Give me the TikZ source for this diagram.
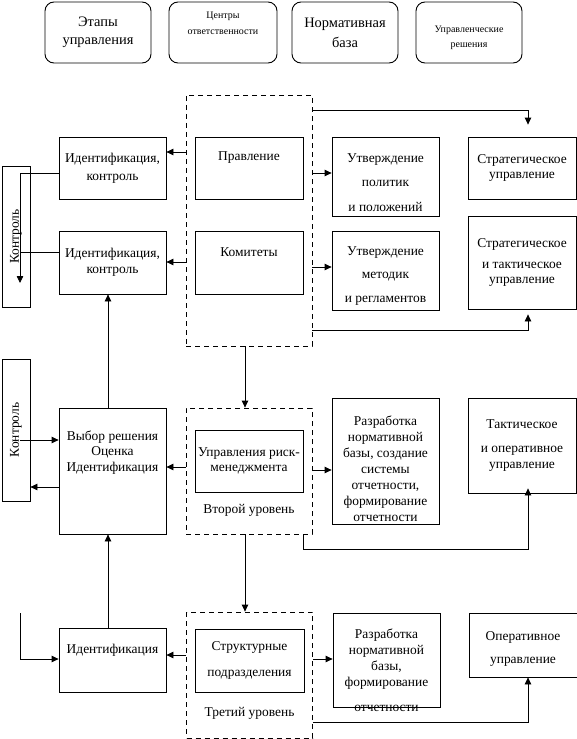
\documentclass[tikz,border=0pt]{standalone}
\usepackage{fontspec}
\setmainfont{Liberation Serif}
\usetikzlibrary{arrows.meta, positioning, calc}
\tikzset{
  hbox/.style={draw, line width=0.9bp, rounded corners=9bp, minimum width=106bp, minimum height=61bp, align=center, inner sep=0pt, font=\fontsize{14.5}{18}\selectfont},
  tbox/.style={draw, line width=0.8bp, minimum width=107bp, minimum height=62bp, align=center, inner sep=0pt, font=\fontsize{13.5}{16}\selectfont},
  dbox/.style={draw, line width=0.8bp, dash pattern=on 5bp off 4bp, minimum width=126bp, minimum height=126bp},
  cbox/.style={draw, line width=0.8bp, minimum width=28bp, minimum height=141bp},
  tlbl/.style={font=\fontsize{13.5}{16}\selectfont, align=center, inner sep=0pt},
  slbl/.style={tlbl, font=\fontsize{10}{16}\selectfont},
  tin/.style 2 args={label={[tlbl, yshift=#1]center:#2}},
  tflow/.style={-{Triangle[length=7bp, width=6.5bp]}, line width=0.8bp},
  tline/.style={line width=0.8bp},
}
\begin{document}
\begin{tikzpicture}[x=1bp, y=-1bp]
  \useasboundingbox (0,0) rectangle (577,739);
  % headers
  \node[hbox] (hd1) at (98,32.5) {Этапы\\управления};
  \node[hbox, minimum width=108bp, label={[slbl, yshift=9.5bp]center:Центры\\ответственности}] (hd2) at (223,32.5) {};
  \node[hbox] (hd3) at (345,32.5) {Нормативная\\[2bp]база};
  \node[hbox, label={[slbl, font=\fontsize{10}{15}\selectfont, yshift=-5bp]center:Управленческие\\решения}] (hd4) at (469,32.5) {};
  % first level
  \node[dbox, minimum height=251bp] (d1) at (249,220.5) {};
  \node[tbox] (id1) at (112.5,168) {Идентификация,\\[2bp]контроль};
  \node[tbox, minimum height=63bp] (id2) at (112.5,262.5) {Идентификация,\\контроль};
  \node[tbox, minimum width=108bp, tin={10bp}{Правление}] (brd) at (249,168) {};
  \node[tbox, minimum width=108bp, minimum height=63bp, tin={10bp}{Комитеты}] (com) at (249,262.5) {};
  \node[tbox, minimum height=79bp, tin={-6bp}{Утверждение\\[8.5bp]политик\\[8.5bp]и положений}] (pol) at (385.5,176.5) {};
  \node[tbox, minimum height=79bp, tin={-5.5bp}{Утверждение\\[8bp]методик\\[8bp]и регламентов}] (met) at (385.5,270.5) {};
  \node[tbox, minimum width=108bp] (st1) at (522,168) {Стратегическое\\управление};
  \node[tbox, minimum width=108bp, minimum height=93bp] (st2) at (522,262.5) {Стратегическое\\[5bp]и тактическое\\управление};
  \node[cbox, label={[tlbl, rotate=90]center:Контроль}] (ctl1) at (16,236.5) {};
  \coordinate (c1) at (20,283);
  % second level
  \node[dbox] (d2) at (249,471) {};
  \node[tbox, minimum width=108bp, font=\fontsize{13.5}{15}\selectfont] (rsk) at (249,461) {Управления риск-\\менеджмента};
  \node[tlbl] (lvl2) at (249,510) {Второй уровень};
  \node[tbox, minimum height=126bp, tin={18.5bp}{Выбор решения\\[-0.5bp]Оценка\\[-0.5bp]Идентификация}] (sel) at (112.5,471) {};
  \node[cbox, minimum height=142bp, label={[tlbl, rotate=90]center:Контроль}] (ctl2) at (16,430) {};
  \coordinate (c2) at (20,440);
  \node[tbox, minimum height=126bp, tin={-8bp}{Разработка\\нормативной\\базы, создание\\системы\\отчетности,\\формирование\\отчетности}] (dev1) at (385.5,461) {};
  \node[tbox, minimum width=108bp, minimum height=95bp] (tac) at (522,445.5) {Тактическое\\[9bp]и оперативное\\управление};
  % third level
  \node[dbox] (d3) at (249.5,675) {};
  \node[tbox, minimum width=109bp, minimum height=63bp] (str) at (249.5,660.5) {Структурные\\[10bp]подразделения};
  \node[tlbl] (lvl3) at (249.5,713) {Третий уровень};
  \node[tbox, minimum height=64bp, tin={10bp}{Идентификация}] (id3) at (112.5,660) {};
  \coordinate (c3) at (20,613);
  \node[tbox, minimum height=94bp, tin={-10bp}{Разработка\\нормативной\\базы,\\формирование\\[9bp]отчетности}] (dev2) at (386.5,660) {};
  \node[tbox, minimum width=108bp, minimum height=64bp, tin={-4bp}{Оперативное\\[8bp]управление}] (op) at (523,645) {};
  % connectors
  \draw[tflow] (d1.east |- 0,110) -| ([xshift=6bp, yshift=12bp]st1.north);
  \draw[tflow] (d1.east |- 0,173) -- (pol.west |- 0,173);
  \draw[tflow] (d1.east |- 0,267) -- (met.west |- 0,267);
  \draw[tflow] (d1.east |- 0,330) -| ([xshift=6bp, yshift=-5bp]st2.south);
  \draw[tflow] (d1.west |- 0,152) -- (id1.east |- 0,152);
  \draw[tflow] (d1.west |- 0,262) -- (id2.east |- 0,262);
  \draw[tflow] (id1.west |- 0,173) -| (c1);
  \draw[tline] (id2.west |- 0,252) -- (c1 |- 0,252);
  \draw[tflow] (d1.south -| 245,0) -- (d2.north -| 245,0);
  \draw[tflow] (sel.north -| 108,0) -- (id2.south -| 108,0);
  \draw[tflow] (c2) -- (sel.west |- c2);
  \draw[tflow] (sel.west |- 0,487) -- (ctl2.east |- 0,487);
  \draw[tflow] (d2.west |- 0,467) -- (sel.east |- 0,467);
  \draw[tflow] (d2.east |- 0,470) -- (dev1.west |- 0,470);
  \draw[tflow] (d2.south -| 303,0) -- ++(0,15) -| ([yshift=5bp]tac.south -| 528,0);
  \draw[tflow] (d2.south -| 245,0) -- (d3.north -| 245,0);
  \draw[tflow] (id3.north -| 108,0) -- (sel.south -| 108,0);
  \draw[tflow] (c3) |- (id3.west |- 0,659);
  \draw[tflow] (d3.west |- 0,655) -- (id3.east |- 0,655);
  \draw[tflow] (d3.east |- 0,659) -- (dev2.west |- 0,659);
  \draw[tflow] (d3.east |- 0,722) -| (op.south -| 528,0);
\end{tikzpicture}
\end{document}
